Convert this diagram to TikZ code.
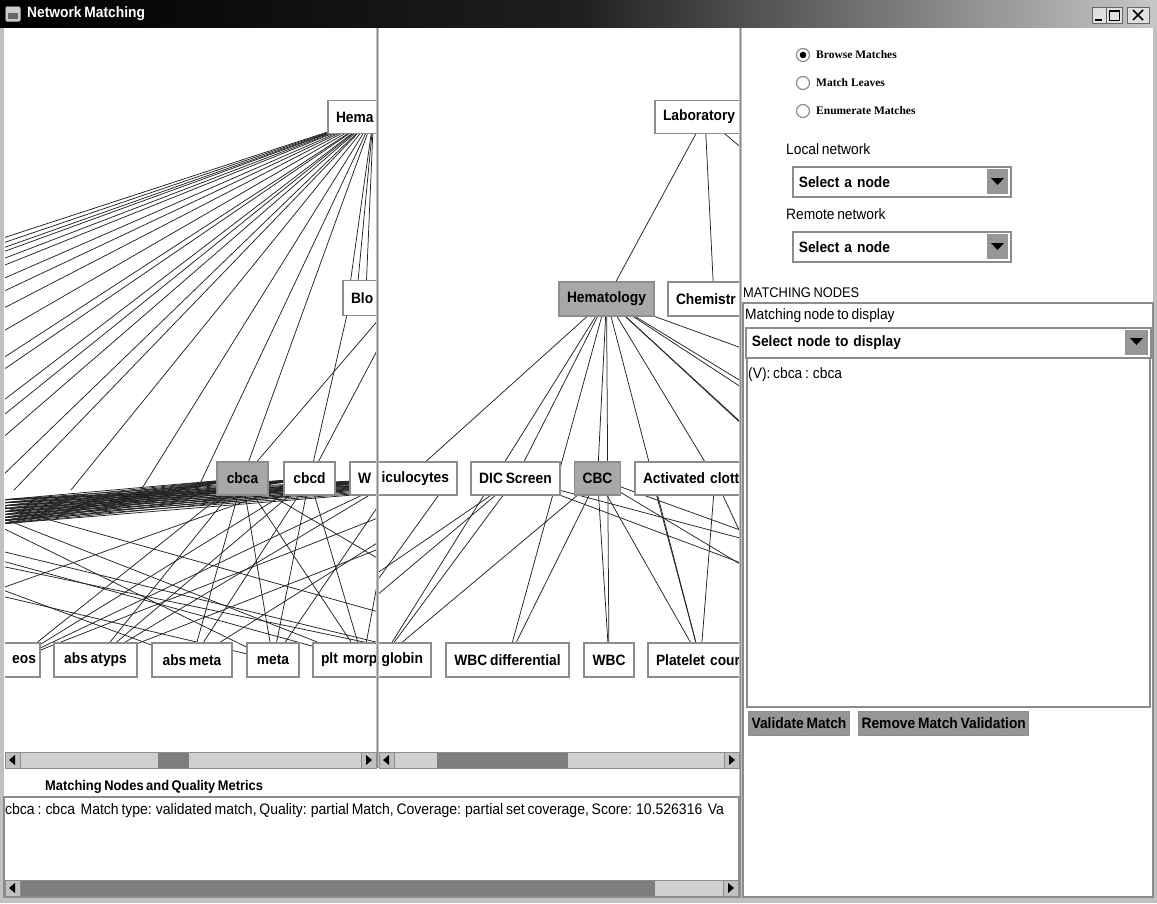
\documentclass[tikz,border=0pt]{standalone}
\usepackage{fontspec}
\setmainfont{Liberation Sans}
\newfontfamily\uifont[FakeStretch=0.92, WordSpace=0.72]{Liberation Sans}
\newfontfamily\radiofont{Liberation Serif}
\newcommand{\uisize}[1]{\fontsize{#1}{#1}\selectfont}
\definecolor{framegray}{RGB}{192,192,192}
\definecolor{boxedge}{RGB}{140,140,140}
\definecolor{selfill}{RGB}{168,168,168}
\definecolor{trackgray}{RGB}{208,208,208}
\definecolor{thumbgray}{RGB}{125,125,125}
\definecolor{btngray}{RGB}{150,150,150}
\definecolor{linkcol}{RGB}{35,35,35}

\begin{document}
\begin{tikzpicture}[x=1pt,y=-1pt,
  link/.style={draw=linkcol, line width=0.75pt},
  tnode/.style={draw=boxedge, line width=1.8pt, fill=white, minimum height=33pt,
    inner xsep=8pt, inner ysep=0pt, text=black, font=\uifont\bfseries\uisize{15}},
  hit/.style={tnode, fill=selfill},
  cutright/.style={text width=#1, align=left},
  cutleft/.style={text width=#1, align=right},
  lbl/.style={anchor=west, inner sep=0pt, text=black, font=\uifont\uisize{15}},
  radio/.style={circle, draw=boxedge, line width=1.2pt, fill=white, minimum size=13pt, inner sep=0pt},
  radiolbl/.style={anchor=west, inner sep=0pt, font=\radiofont\bfseries\uisize{11.5}},
  combo/.style={draw=boxedge, line width=1.6pt, fill=white, anchor=north west,
    minimum height=30pt, inner xsep=6pt, inner ysep=0pt, align=left,
    font=\uifont\bfseries\uisize{15}},
  pushbtn/.style={draw=boxedge, line width=1.2pt, fill=btngray, anchor=north west,
    minimum height=24pt, inner xsep=3pt, inner ysep=0pt, font=\uifont\bfseries\uisize{15}},
  frameline/.style={draw=boxedge, line width=1.2pt},
  arrowbtn/.style={fill=framegray, draw=boxedge, line width=0.8pt},
]
\useasboundingbox (0,0) rectangle (1157,903);

% ---------- window body, frame and title bar ----------
\fill[framegray] (0,0) rectangle (1157,903);
\fill[white] (4,28) rectangle (1153,898);
\shade[left color=black, right color=black!22, middle color=black!88] (0,0) rectangle (1157,27);
\node[draw=black!45, fill=black!20, rounded corners=2pt, minimum size=15pt, inner sep=0pt] (winicon) at (13,14) {};
\fill[black!60] (8,13) rectangle (18,19);
\node[anchor=west, inner sep=0pt, text=white, font=\uifont\bfseries\uisize{15}] (title) at (27,14) {Network Matching};
\filldraw[fill=black!12, draw=black!60] (1092,7) rectangle (1106,23);
\draw[line width=1.6pt] (1095,20) -- (1102,20);
\filldraw[fill=black!12, draw=black!60] (1106,7) rectangle (1122,23);
\draw[line width=0.9pt] (1109,10) rectangle (1119,20);
\draw[line width=2pt] (1109,11) -- (1119,11);
\filldraw[fill=black!12, draw=black!60] (1127,7) rectangle (1149,23);
\draw[line width=1.6pt] (1133,10) -- (1143,20) (1143,10) -- (1133,20);

% ---------- local network view ----------
\begin{scope}
  \clip (5,28) rectangle (376,750);
  \coordinate (hemaL) at (373.5,117);
  \coordinate (bloL) at (383,298);
  \coordinate (bloHub) at (349,306);
  \coordinate (cbcaL) at (242.5,478.5);
  \coordinate (cbcdL) at (309.5,478.5);
  \coordinate (wL) at (397,478.5);
  \coordinate (eosL) at (15,660);
  \coordinate (atypsL) at (95.5,660);
  \coordinate (absmetaL) at (192,660);
  \coordinate (metaL) at (273,660);
  \coordinate (pltL) at (363,660);
  \coordinate (offA) at (480,478);
  \coordinate (offB) at (560,478);
  \coordinate (offC) at (-100,478);
  \coordinate (offD) at (-300,478);
  \coordinate (offH) at (-500,478);
  \coordinate (offI) at (-420,478);
  \coordinate (offE) at (450,660);
  \coordinate (offF) at (550,660);
  \coordinate (offG) at (-200,660);
  \coordinate (edgeR1) at (380,318);
  \coordinate (edgeR2) at (380,345);
  % fan of the top category
  \foreach \ye in {239,244,249,253,260,267,280,293,310,333,360,372,403,418,440,478}
    \draw[link] (hemaL) -- (0,\ye);
  \foreach \xe in {14,71,141,197}
    \draw[link] (hemaL) -- (\xe,490);
  \foreach \xe in {349,357,366}
    \draw[link] (hemaL) -- (\xe,292);
  \draw[link] (hemaL) -- (cbcaL);
  \draw[link] (edgeR1) -- (cbcaL);
  \draw[link] (edgeR2) -- (cbcdL);
  \draw[link] (bloHub) -- (cbcdL);
  % dense bundle towards the far left
  \foreach \src in {cbcaL,cbcdL,wL,offA,offB}
    \foreach \ye in {500,503,...,524}
      \draw[link] (\src) -- (0,\ye);
  % links down to the leaves
  \foreach \a/\b in {cbcaL/eosL, cbcaL/atypsL, cbcaL/absmetaL, cbcaL/metaL, cbcaL/pltL,
                     cbcdL/eosL, cbcdL/atypsL, cbcdL/absmetaL, cbcdL/metaL, cbcdL/pltL,
                     wL/eosL, wL/atypsL, wL/metaL, wL/pltL,
                     offA/eosL, offA/absmetaL, offB/atypsL,
                     offC/metaL, offC/pltL, offD/absmetaL, offD/offE, offD/pltL,
                     offC/offF, offH/metaL, offI/offE,
                     cbcaL/offF, cbcdL/offG}
    \draw[link] (\a) -- (\b);
  % boxes
  \node[tnode, cutright=75pt] (hemaBox) at (hemaL) {Hema};
  \node[tnode, cutright=64pt, minimum height=35pt] (bloBox) at (bloL) {Blo};
  \node[hit, minimum width=51pt] (cbcaBox) at (cbcaL) {cbca};
  \node[tnode, minimum width=51pt] (cbcdBox) at (cbcdL) {cbcd};
  \node[tnode, cutright=78pt] (wBox) at (wL) {W};
  \node[tnode, inner xsep=4pt, cutleft=42pt, minimum height=34pt] (eosBox) at (eosL) {eos};
  \node[tnode, minimum width=83pt, minimum height=34pt] (atypsBox) at (atypsL) {abs atyps};
  \node[tnode, minimum width=80pt, minimum height=34pt] (absmetaBox) at (absmetaL) {abs meta};
  \node[tnode, minimum width=52pt, minimum height=34pt] (metaBox) at (metaL) {meta};
  \node[tnode, cutright=84pt, minimum height=34pt] (pltBox) at (pltL) {plt morp};
\end{scope}

% ---------- remote network view ----------
\begin{scope}
  \clip (379,28) rectangle (739,750);
  \coordinate (labM) at (705,117);
  \coordinate (hemM) at (606.5,299);
  \coordinate (chemM) at (714,299);
  \coordinate (retM) at (407,478.5);
  \coordinate (dicM) at (515.5,478.5);
  \coordinate (cbcM) at (597.5,478.5);
  \coordinate (actM) at (715,478.5);
  \coordinate (actLeft) at (652,478);
  \coordinate (retRight) at (451,478);
  \coordinate (globM) at (381,660);
  \coordinate (wdiffM) at (507.5,660);
  \coordinate (wbcM) at (609,660);
  \coordinate (platM) at (700.5,660);
  \coordinate (farR1) at (900,282);
  \coordinate (rowR1) at (1100,478);
  \coordinate (rowR2) at (900,478);
  \coordinate (rowR3) at (880,478);
  \coordinate (rowR4) at (800,478);
  \coordinate (leafR1) at (1000,660);
  \coordinate (leafR2) at (1100,660);
  \coordinate (leafR3) at (900,660);
  \coordinate (leafR4) at (1200,660);
  \coordinate (leafR5) at (800,660);
  \coordinate (leafL1) at (300,660);
  \coordinate (leafL2) at (250,660);
  \coordinate (leafL3) at (320,660);
  \foreach \a/\b in {labM/hemM, labM/chemM, labM/farR1,
                     hemM/retM, hemM/dicM, hemM/cbcM, hemM/actM, hemM/globM, hemM/wdiffM,
                     hemM/wbcM, hemM/platM, hemM/rowR1, hemM/rowR2, hemM/rowR3, hemM/rowR4,
                     hemM/leafR1,
                     cbcM/wbcM, cbcM/wdiffM, cbcM/globM, cbcM/platM, cbcM/leafR2, cbcM/leafR3,
                     dicM/globM, dicM/leafL1, dicM/leafL2, dicM/leafR4, dicM/leafR1,
                     retRight/leafL3, actM/platM, actM/leafR5, actLeft/platM}
    \draw[link] (\a) -- (\b);
  % boxes
  \node[tnode, cutright=84pt] (labBox) at (labM) {Laboratory};
  \node[hit, minimum width=91pt, minimum height=34pt] (hemBox) at (hemM) {Hematology};
  \node[tnode, cutright=76pt, minimum height=34pt] (chemBox) at (chemM) {Chemistr};
  \node[tnode, cutleft=84pt] (retBox) at (retM) {iculocytes};
  \node[tnode, minimum width=89pt] (dicBox) at (dicM) {DIC Screen};
  \node[hit, minimum width=45pt] (cbcBox) at (cbcM) {CBC};
  \node[tnode, cutright=144pt] (actBox) at (actM) {Activated clotti};
  \node[tnode, cutleft=84pt, minimum height=34pt] (globBox) at (globM) {globin};
  \node[tnode, minimum width=123pt, minimum height=34pt] (wdiffBox) at (wdiffM) {WBC differential};
  \node[tnode, minimum width=50pt, minimum height=34pt] (wbcBox) at (wbcM) {WBC};
  \node[tnode, cutright=89pt, minimum height=34pt] (platBox) at (platM) {Platelet cour};
\end{scope}

% ---------- panel separators ----------
\fill[framegray] (376,28) rectangle (379,768);
\draw[boxedge, line width=0.8pt] (377.5,28) -- (377.5,768);
\fill[framegray] (739,28) rectangle (742,898);
\draw[boxedge, line width=0.8pt] (740.5,28) -- (740.5,898);

% ---------- scroll bars of the two views ----------
\fill[trackgray] (5,752) rectangle (376,768);
\fill[thumbgray] (158,752) rectangle (189,768);
\draw[boxedge, line width=0.8pt] (5,752) rectangle (376,768);
\filldraw[arrowbtn] (5,752) rectangle (20,768);
\fill (9,760) -- (15,755) -- (15,765) -- cycle;
\filldraw[arrowbtn] (361,752) rectangle (376,768);
\fill (372,760) -- (366,755) -- (366,765) -- cycle;

\fill[trackgray] (379,752) rectangle (739,768);
\fill[thumbgray] (437,752) rectangle (568,768);
\draw[boxedge, line width=0.8pt] (379,752) rectangle (739,768);
\filldraw[arrowbtn] (379,752) rectangle (394,768);
\fill (383,760) -- (389,755) -- (389,765) -- cycle;
\filldraw[arrowbtn] (724,752) rectangle (739,768);
\fill (735,760) -- (729,755) -- (729,765) -- cycle;

% ---------- match metrics area ----------
\node[lbl, font=\uifont\bfseries\uisize{14}] (metricsLbl) at (45,787) {Matching Nodes and Quality Metrics};
\draw[frameline] (4,797) rectangle (739,897);
\begin{scope}
  \clip (5,798) rectangle (738,878);
  \node[lbl, font=\uifont\uisize{15.2}] (metricsRow) at (5,811)
    {cbca : cbca\ \ Match type: validated match, Quality: partial Match, Coverage: partial set coverage, Score: 10.526316\ \ Va};
\end{scope}
\fill[thumbgray] (5,880) rectangle (738,896);
\fill[trackgray] (655,880) rectangle (738,896);
\draw[boxedge, line width=0.8pt] (5,880) rectangle (738,896);
\filldraw[arrowbtn] (5,880) rectangle (20,896);
\fill (9,888) -- (15,883) -- (15,893) -- cycle;
\filldraw[arrowbtn] (723,880) rectangle (738,896);
\fill (734,888) -- (728,883) -- (728,893) -- cycle;

% ---------- control panel ----------
\node[radio] (rb1) at (803,55) {};
\node[radio] (rb2) at (803,83) {};
\node[radio] (rb3) at (803,111) {};
\fill[black] (rb1.center) circle (3.3pt);
\node[radiolbl] (rt1) at (816,55) {Browse Matches};
\node[radiolbl] (rt2) at (816,83) {Match Leaves};
\node[radiolbl] (rt3) at (816,111) {Enumerate Matches};

\node[lbl] (localLbl) at (786,149) {Local network};
\node[combo, text width=206pt] (localSel) at (792,166) {Select a node};
\fill[btngray] (987,168.5) rectangle (1008,193.5);
\fill (991,178) -- (1004,178) -- (997.5,185) -- cycle;

\node[lbl] (remoteLbl) at (786,214) {Remote network};
\node[combo, text width=206pt] (remoteSel) at (792,231) {Select a node};
\fill[btngray] (987,233.5) rectangle (1008,258.5);
\fill (991,243) -- (1004,243) -- (997.5,250) -- cycle;

\node[lbl, font=\uifont\uisize{14}] (matchLbl) at (743,293) {MATCHING NODES};
\draw[frameline] (743,303) rectangle (1153,897);
\node[lbl] (displayLbl) at (745,316) {Matching node to display};
\node[combo, text width=393pt] (nodeSel) at (745,327) {Select node to display};
\fill[btngray] (1125,329.5) rectangle (1148,354.5);
\fill (1130,338) -- (1143,338) -- (1136.5,345) -- cycle;
\draw[frameline] (747,358) rectangle (1150,707);
\node[lbl] (matchItem) at (748,375) {(V): cbca : cbca};

\node[pushbtn] (validateBtn) at (748,711) {Validate Match};
\node[pushbtn] (removeBtn) at (858,711) {Remove Match Validation};
\end{tikzpicture}
\end{document}
